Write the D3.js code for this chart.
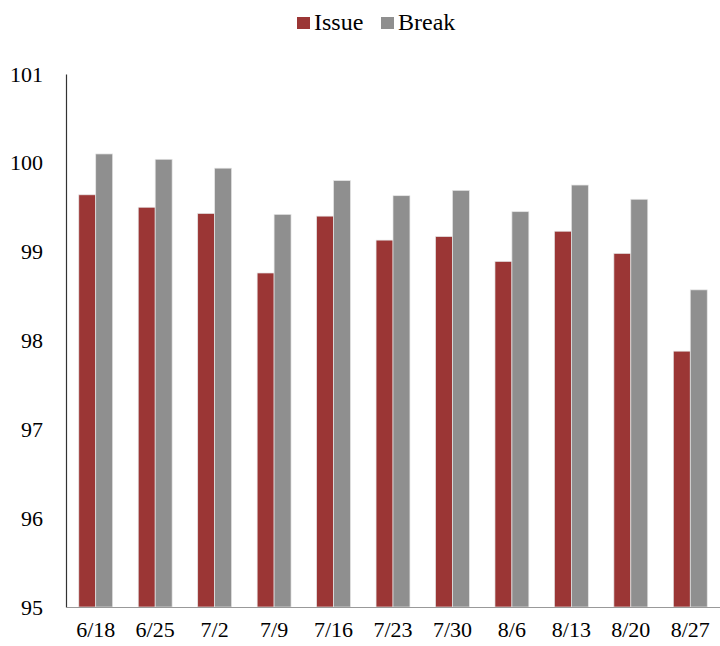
<!DOCTYPE html>
<html>
<head>
<meta charset="utf-8">
<script src="https://cdn.jsdelivr.net/npm/d3@7"></script>
<style>
  html, body { margin: 0; padding: 0; background: #fff; }
</style>
</head>
<body>
<svg id="chart" width="720" height="646"></svg>
<script>
// Weekly prices: issue vs. break
const categories = ["6/18", "6/25", "7/2", "7/9", "7/16", "7/23", "7/30", "8/6", "8/13", "8/20", "8/27"];
const issueValues = [99.64, 99.50, 99.43, 98.76, 99.40, 99.13, 99.17, 98.89, 99.23, 98.98, 97.88];
const breakValues = [100.10, 100.04, 99.94, 99.42, 99.80, 99.63, 99.69, 99.45, 99.75, 99.59, 98.57];
const seriesNames = ["Issue", "Break"];
const seriesColors = ["#9B3635", "#8F8F8F"];
const yTicks = [95, 96, 97, 98, 99, 100, 101];

const FONT = "'Liberation Serif'";

const svg = d3.select("#chart").style("font-family", FONT);
const plot = { left: 66, right: 720, top: 74, bottom: 607 };

const x = d3.scaleBand().domain(categories).range([plot.left, plot.right])
  .paddingInner(0.43).paddingOuter(0.215);
const xs = d3.scaleBand().domain(seriesNames).range([0, x.bandwidth()]);
const y = d3.scaleLinear().domain([95, 101]).range([plot.bottom, plot.top]);

const rows = categories.map((c, i) => ({ cat: c, vals: [issueValues[i], breakValues[i]] }));

// bars
const groups = svg.append("g").selectAll("g").data(rows).join("g")
  .attr("transform", d => `translate(${x(d.cat)},0)`);
groups.selectAll("rect")
  .data(d => d.vals.map((v, j) => ({ name: seriesNames[j], v, j })))
  .join("rect")
  .attr("x", d => xs(d.name))
  .attr("width", xs.bandwidth())
  .attr("y", d => y(d.v))
  .attr("height", d => y(95) - y(d.v))
  .attr("fill", d => seriesColors[d.j])
  .attr("stroke", "#e6e6e6")
  .attr("stroke-width", 0.7);

// y axis
const yAxis = d3.axisLeft(y).tickValues(yTicks).tickSize(0).tickPadding(23).tickFormat(d3.format("d"));
const yg = svg.append("g").attr("transform", `translate(${plot.left},0)`).call(yAxis);
yg.attr("font-family", null);
yg.select(".domain").attr("stroke", "#333").attr("stroke-width", 1.2);
yg.selectAll("text").style("font-family", FONT).style("font-size", "22px").attr("fill", "#000");

// x axis
const xAxis = d3.axisBottom(x).tickSize(0).tickPadding(14);
const xg = svg.append("g").attr("transform", `translate(0,${plot.bottom})`).call(xAxis);
xg.attr("font-family", null);
xg.select(".domain").attr("stroke", "#999").attr("stroke-width", 1.2);
xg.selectAll("text").style("font-family", FONT).style("font-size", "22px").attr("fill", "#000");

// legend
const legendItems = [
  { name: seriesNames[0], color: seriesColors[0], x: 297 },
  { name: seriesNames[1], color: seriesColors[1], x: 381 }
];
const lg = svg.append("g");
legendItems.forEach(it => {
  lg.append("rect").attr("x", it.x).attr("y", 17).attr("width", 13).attr("height", 12).attr("fill", it.color);
  lg.append("text").attr("x", it.x + 17).attr("y", 30)
    .style("font-family", FONT).style("font-size", "24px").text(it.name);
});
</script>
</body>
</html>
